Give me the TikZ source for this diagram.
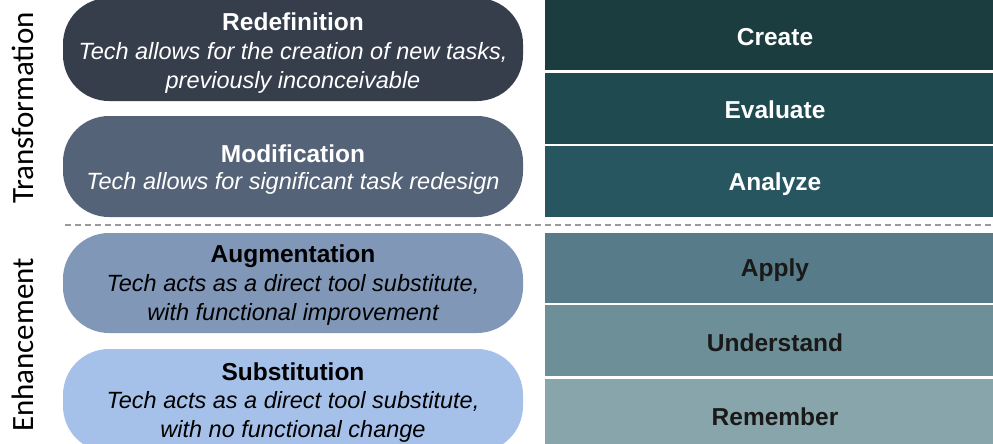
\documentclass[tikz,border=0pt]{standalone}
\usepackage{fontspec}
\setmainfont{Liberation Sans}
\newfontfamily\sidefont{Carlito}
\definecolor{cRedef}{HTML}{363E4C}
\definecolor{cModif}{HTML}{556379}
\definecolor{cAugm}{HTML}{8097B8}
\definecolor{cSubst}{HTML}{A6C1E9}
\definecolor{cCreate}{HTML}{1B3D3F}
\definecolor{cEval}{HTML}{1F4A50}
\definecolor{cAnal}{HTML}{275661}
\definecolor{cApply}{HTML}{577B88}
\definecolor{cUnder}{HTML}{6D8F98}
\definecolor{cRemem}{HTML}{88A5AB}
\definecolor{cDash}{HTML}{9A9A9A}
\begin{document}
\begin{tikzpicture}[x=1pt,y=-1pt,
  pill/.style={rounded corners=46pt, draw=none},
  blk/.style={draw=none},
  ttl/.style={font=\fontsize{24.5}{27}\selectfont\bfseries, inner sep=0pt, anchor=center},
  bod/.style={font=\fontsize{23.5}{28.5}\selectfont\itshape, inner sep=0pt, align=center, anchor=center},
  lvl/.style={font=\fontsize{24.5}{27}\selectfont\bfseries, inner sep=0pt, anchor=center},
  side/.style={font=\sidefont\fontsize{31}{34}\selectfont, rotate=90, inner sep=0pt, anchor=center},
  sep/.style={draw=white, line width=2.2pt}
]
\useasboundingbox (0,0) rectangle (993,444);
\clip (0,0) rectangle (993,444);
\fill[white] (0,0) rectangle (993,444);

% left pills
\fill[pill, cRedef] (63,-2) rectangle (523,101);
\fill[pill, cModif] (63,116) rectangle (523,217);
\fill[pill, cAugm] (63,233) rectangle (523,333);
\fill[pill, cSubst] (63,349) rectangle (523,452);

\node[ttl, white] (tRedef) at (293,22) {Redefinition};
\node[bod, white] (bRedef) at (293,68) {Tech allows for the creation of new tasks,\\previously inconceivable};
\node[ttl, white] (tModif) at (293,154) {Modification};
\node[bod, white] (bModif) at (293,183) {Tech allows for significant task redesign};
\node[ttl, black] (tAugm) at (293,256) {Augmentation};
\node[bod, black] (bAugm) at (293,300) {Tech acts as a direct tool substitute,\\with functional improvement};
\node[ttl, black] (tSubst) at (293,372) {Substitution};
\node[bod, black] (bSubst) at (293,417) {Tech acts as a direct tool substitute,\\with no functional change};

% right blocks
\fill[blk, cCreate] (545,0) rectangle (993,71);
\fill[blk, cEval] (545,71) rectangle (993,145);
\fill[blk, cAnal] (545,145) rectangle (993,217);
\fill[blk, cApply] (545,233) rectangle (993,304);
\fill[blk, cUnder] (545,304) rectangle (993,377);
\fill[blk, cRemem] (545,377) rectangle (993,444);
\coordinate (s1a) at (545,71.5); \coordinate (s1b) at (993,71.5);
\coordinate (s2a) at (545,145); \coordinate (s2b) at (993,145);
\coordinate (s3a) at (545,304); \coordinate (s3b) at (993,304);
\coordinate (s4a) at (545,377.5); \coordinate (s4b) at (993,377.5);
\draw[sep] (s1a) -- (s1b);
\draw[sep] (s2a) -- (s2b);
\draw[sep] (s3a) -- (s3b);
\draw[sep] (s4a) -- (s4b);

\node[lvl, white] (create) at (775,37) {Create};
\node[lvl, white] (evaluate) at (775,110) {Evaluate};
\node[lvl, white] (analyze) at (775,184) {Analyze};
\node[lvl, black!90] (apply) at (775,270) {Apply};
\node[lvl, black!90] (understand) at (775,343) {Understand};
\node[lvl, black!90] (remember) at (775,417) {Remember};

% dashed divider
\coordinate (dA) at (65,225);
\coordinate (dB) at (993,225);
\draw[cDash, line width=1.4pt, dash pattern=on 6pt off 4pt] (dA) -- (dB);

% side labels
\node[side] (transf) at (23,108) {Transformation};
\node[side] (enh) at (23,345) {Enhancement};
\end{tikzpicture}
\end{document}
